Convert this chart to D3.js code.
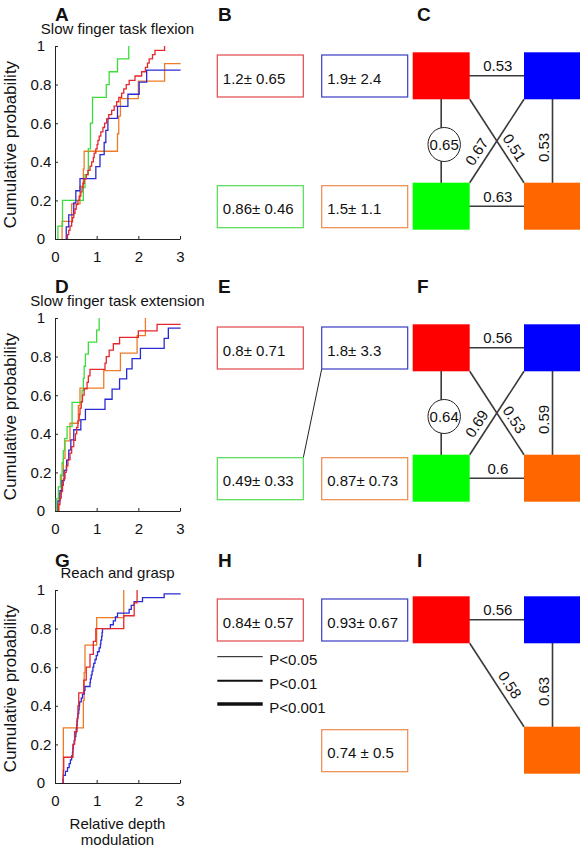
<!DOCTYPE html>
<html><head><meta charset="utf-8">
<script src="https://cdn.jsdelivr.net/npm/d3@7"></script>
<style>
body{margin:0;background:#fff}
svg{display:block}
text{font-family:"Liberation Sans", Arial, Helvetica, sans-serif}
</style>
</head><body>
<svg id="c" width="580" height="852"></svg>
<script>
// ---------------- DATA ----------------
const panelTitles = ["Slow finger task flexion", "Slow finger task extension", "Reach and grasp"];
const panelLetters = [["A","B","C"],["D","E","F"],["G","H","I"]];
const xTicks = [0, 1, 2, 3];
const yTicks = [0, 0.2, 0.4, 0.6, 0.8, 1];
const yAxisLabel = "Cumulative probability";
const xAxisLabel = ["Relative depth", "modulation"];
const groups = ["red", "blue", "green", "orange"];

// relative depth modulation samples (read from the empirical CDFs)
const flexRed = [0.30,0.33,0.36,0.40,0.42,0.45,0.48,0.51,0.55,0.58,0.62,0.65,0.67,0.70,0.75,0.79,0.84,0.88,0.92,0.94,0.98,1.01,1.03,1.06,1.10,1.15,1.19,1.24,1.29,1.36,1.42,1.48,1.53,1.60,1.65,1.71,1.78,1.92,2.08,2.17,2.22,2.26,2.34,2.40,2.63];
const flexBlue = [0.27,0.33,0.45,0.50,0.60,0.98,1.08,1.18,1.22,1.27,1.50,1.75,2.02,2.20,3.5,4.2];
const flexGreen = [0.07,0.18,0.18,0.68,0.72,0.80,0.80,0.85,0.85,0.90,0.90,1.23,1.30,1.50,1.77];
const flexOrange = [0.17,0.40,0.60,0.68,0.70,1.50,1.53,1.57,2.00,2.63,3.6];

const extRed = [0.08,0.12,0.15,0.18,0.20,0.24,0.27,0.31,0.36,0.40,0.45,0.49,0.52,0.55,0.58,0.60,0.63,0.66,0.70,0.77,0.80,0.84,1.20,1.23,1.30,1.40,1.55,2.00,2.45,3.4];
const extBlue = [0.07,0.12,0.17,0.22,0.28,0.33,0.38,0.45,0.62,0.73,1.20,1.37,1.55,1.72,1.85,2.05,2.62,2.72,3.5];
const extGreen = [0.03,0.08,0.13,0.17,0.20,0.23,0.29,0.41,0.41,0.65,0.68,0.70,0.73,0.80,1.00,1.06];
const extOrange = [0.10,0.15,0.20,0.24,0.36,0.56,0.60,1.17,1.57,1.97,2.17];

const graspRed = [0.20,0.21,0.43,0.47,0.53,0.55,0.57,0.69,0.75,0.84,0.92,0.98,1.65,1.90,1.97];
const graspBlue = [0.19,0.20,0.25,0.30,0.34,0.37,0.40,0.42,0.43,0.44,0.46,0.48,0.50,0.51,0.52,0.53,0.54,0.55,0.57,0.58,0.59,0.63,0.66,0.70,0.72,0.84,0.85,0.87,0.89,0.91,0.93,0.96,0.99,1.02,1.06,1.09,1.10,1.12,1.13,1.14,1.33,1.40,1.45,1.50,1.78,1.83,1.90,2.10,2.62,3.5];
const graspOrange = [0.20,0.20,0.68,0.70,0.72,1.00,1.65];

// mean ± sd boxes (order: red, blue, green, orange)
const flexStats = ["1.2\u00b1 0.65", "1.9\u00b1 2.4", "0.86\u00b1 0.46", "1.5\u00b1 1.1"];
const extStats = ["0.8\u00b1 0.71", "1.8\u00b1 3.3", "0.49\u00b1 0.33", "0.87\u00b1 0.73"];
const graspStats = ["0.84\u00b1 0.57", "0.93\u00b1 0.67", null, "0.74 \u00b1 0.5"];

// significant differences between boxes
const flexLinks = [];
const extLinks = [["blue", "green"]];
const graspLinks = [];

// correlation network edges
const flexEdges = [["red","blue","0.53"],["red","green","0.65"],["green","blue","0.67"],["red","orange","0.51"],["blue","orange","0.53"],["green","orange","0.63"]];
const extEdges = [["red","blue","0.56"],["red","green","0.64"],["green","blue","0.69"],["red","orange","0.53"],["blue","orange","0.59"],["green","orange","0.6"]];
const graspEdges = [["red","blue","0.56"],["red","orange","0.58"],["blue","orange","0.63"]];
const flexCircled = ["red-green"];
const extCircled = ["red-green"];
const graspCircled = [];

const legendLabels = ["P<0.05", "P<0.01", "P<0.001"];

// ---------------- STYLE / LAYOUT ----------------
const curveColor = {red:"#e6262c", blue:"#2a2ad4", green:"#3cdc3c", orange:"#ef7b26"};
const fillColor = {red:"#ff0000", blue:"#0000ff", green:"#00ff00", orange:"#ff6600"};
const boxColor = {red:"#e2474b", blue:"#3b3bc4", green:"#52dc52", orange:"#ee8a4c"};
const gridPos = {red:[0,0], blue:[1,0], green:[0,1], orange:[1,1]};
const legendWidths = [1, 2, 3.6];
const rowOffset = [0, 272, 544];
const letterY = [21, 293, 567];
const edgeColor = "#3a3a3a";

const rows = [
  {curves:{orange:flexOrange, green:flexGreen, blue:flexBlue, red:flexRed}, stats:flexStats, links:flexLinks, edges:flexEdges, circled:flexCircled},
  {curves:{orange:extOrange, green:extGreen, blue:extBlue, red:extRed}, stats:extStats, links:extLinks, edges:extEdges, circled:extCircled},
  {curves:{orange:graspOrange, blue:graspBlue, red:graspRed}, stats:graspStats, links:graspLinks, edges:graspEdges, circled:graspCircled}
];

const svg = d3.select("#c");

// scales for box and square grids
const boxX = d3.scaleOrdinal().domain([0,1]).range([217.3, 321.7]);
const boxY = d3.scaleOrdinal().domain([0,1]).range([55, 185.7]);
const boxW = 86, boxH = 42;
const sqX = d3.scaleOrdinal().domain([0,1]).range([412.7, 524]);
const sqY = d3.scaleOrdinal().domain([0,1]).range([52.3, 182.7]);
const sqW = 57, sqH = 47;

rows.forEach((r, i) => {
  const oy = rowOffset[i];
  const x = d3.scaleLinear().domain([0, 3]).range([55, 180]);
  const y = d3.scaleLinear().domain([0, 1]).range([239 + oy, 46 + oy]);

  // panel letters
  const lx = [55, 218, 417];
  panelLetters[i].forEach((L, j) => {
    svg.append("text").attr("x", lx[j]).attr("y", letterY[i])
      .attr("font-size", 19).attr("font-weight", "bold").attr("fill", "#111").text(L);
  });

  // title
  svg.append("text").attr("x", 117.5).attr("y", 46 + oy - 12.5)
    .attr("text-anchor", "middle").attr("font-size", 15).attr("fill", "#111").text(panelTitles[i]);

  // clip
  svg.append("clipPath").attr("id", "clip" + i).append("rect")
    .attr("x", 55).attr("y", 40 + oy).attr("width", 125.6).attr("height", 205);

  // axes
  const ya = svg.append("g").attr("transform", "translate(55,0)")
    .call(d3.axisLeft(y).tickValues(yTicks).tickSizeInner(-3).tickSizeOuter(0).tickFormat(d => String(d)));
  ya.attr("font-size", 15);
  ya.select(".domain").attr("stroke", "#222");
  ya.selectAll(".tick line").attr("stroke", "#222");
  ya.selectAll(".tick text").attr("x", -14).attr("text-anchor", "middle").attr("fill", "#111");

  const xa = svg.append("g").attr("transform", `translate(0,${239 + oy})`)
    .call(d3.axisBottom(x).tickValues(xTicks).tickSizeInner(-3).tickSizeOuter(0).tickPadding(12.5).tickFormat(d => String(d)));
  xa.attr("font-size", 15);
  xa.select(".domain").attr("stroke", "#222");
  xa.selectAll(".tick line").attr("stroke", "#222");
  xa.selectAll(".tick text").attr("fill", "#111");

  // y label
  svg.append("text").attr("transform", `translate(16,${(46 + 239) / 2 + 2 + oy}) rotate(-90)`)
    .attr("text-anchor", "middle").attr("font-size", 17).attr("fill", "#111").text(yAxisLabel);

  // CDF curves
  const line = d3.line().x(d => x(d[0])).y(d => y(d[1])).curve(d3.curveStepAfter);
  Object.keys(r.curves).forEach(gname => {
    const vals = r.curves[gname].slice().sort((a, b) => a - b);
    const n = vals.length;
    const pts = [[vals[0], 0]].concat(vals.map((v, k) => [v, (k + 1) / n]));
    svg.append("path").attr("d", line(pts)).attr("fill", "none")
      .attr("stroke", curveColor[gname]).attr("stroke-width", 1.3)
      .attr("clip-path", `url(#clip${i})`);
  });

  // stats boxes
  const boxCorner = (g) => {
    const p = gridPos[g];
    return {x: boxX(p[0]), y: boxY(p[1]) + oy};
  };
  r.links.forEach(([a, b]) => {
    const pa = gridPos[a], pb = gridPos[b];
    const A = boxCorner(a), B = boxCorner(b);
    const ax = pa[0] < pb[0] ? A.x + boxW : A.x;
    const bx = pb[0] < pa[0] ? B.x + boxW : B.x;
    const ay = pa[1] < pb[1] ? A.y + boxH : A.y;
    const by = pb[1] < pa[1] ? B.y + boxH : B.y;
    svg.append("line").attr("x1", ax).attr("y1", ay).attr("x2", bx).attr("y2", by)
      .attr("stroke", "#222").attr("stroke-width", 1);
  });
  r.stats.forEach((s, k) => {
    if (s == null) return;
    const g = groups[k];
    const c = boxCorner(g);
    svg.append("rect").attr("x", c.x).attr("y", c.y).attr("width", boxW).attr("height", boxH)
      .attr("fill", "none").attr("stroke", boxColor[g]).attr("stroke-width", 1.2);
    svg.append("text").attr("x", c.x + 5.5).attr("y", c.y + boxH / 2 + 7.5)
      .attr("font-size", 15).attr("fill", "#111").text(s);
  });

  // legend (last row)
  if (i === 2) {
    legendLabels.forEach((L, k) => {
      const ly = [656.7, 680.7, 704][k];
      svg.append("line").attr("x1", 217.3).attr("x2", 262.7).attr("y1", ly).attr("y2", ly)
        .attr("stroke", "#111").attr("stroke-width", legendWidths[k]);
      svg.append("text").attr("x", 269.3).attr("y", ly + 8.5).attr("font-size", 15).attr("fill", "#111").text(L);
    });
  }

  // network
  const present = groups.filter((g, k) => r.stats[k] != null);
  const center = (g) => {
    const p = gridPos[g];
    return [sqX(p[0]) + sqW / 2, sqY(p[1]) + oy + sqH / 2];
  };
  const diagCount = r.edges.filter(([a, b]) => gridPos[a][0] !== gridPos[b][0] && gridPos[a][1] !== gridPos[b][1]).length;
  const crossing = diagCount > 1;
  const netG = svg.append("g");
  const labG = svg.append("g");
  r.edges.forEach(([a, b, lab]) => {
    const pa = gridPos[a], pb = gridPos[b];
    const ca = center(a), cb = center(b);
    if (pa[1] === pb[1]) {
      netG.append("line").attr("x1", ca[0]).attr("y1", ca[1]).attr("x2", cb[0]).attr("y2", cb[1])
        .attr("stroke", edgeColor).attr("stroke-width", 1.6);
      labG.append("text").attr("x", (sqX(0) + sqW + sqX(1)) / 2 + 1).attr("y", ca[1] - 4.5)
        .attr("text-anchor", "middle").attr("font-size", 15).attr("fill", "#111").text(lab);
    } else if (pa[0] === pb[0]) {
      netG.append("line").attr("x1", ca[0]).attr("y1", ca[1]).attr("x2", cb[0]).attr("y2", cb[1])
        .attr("stroke", edgeColor).attr("stroke-width", 1.6);
      const my = (sqY(0) + sqH + sqY(1)) / 2 + oy;
      if (r.circled.includes(a + "-" + b)) {
        labG.append("ellipse").attr("cx", ca[0] + 3).attr("cy", my + 3.5).attr("rx", 16.2).attr("ry", 17)
          .attr("fill", "#fff").attr("stroke", "#222").attr("stroke-width", 1);
        labG.append("text").attr("x", ca[0] + 3).attr("y", my + 3.5).attr("dy", "0.35em")
          .attr("text-anchor", "middle").attr("font-size", 15).attr("fill", "#111").text(lab);
      } else {
        labG.append("text").attr("transform", `translate(${ca[0] - 9},${my + 6.5}) rotate(-90)`)
          .attr("dy", "0.35em").attr("text-anchor", "middle").attr("font-size", 15).attr("fill", "#111").text(lab);
      }
    } else {
      const L = pa[0] === 0 ? a : b, R = pa[0] === 0 ? b : a;
      const pL = gridPos[L], pR = gridPos[R];
      const x1 = sqX(0) + sqW, x2 = sqX(1);
      const y1 = (pL[1] === 0 ? sqY(0) + sqH : sqY(1)) + oy;
      const y2 = (pR[1] === 0 ? sqY(0) + sqH : sqY(1)) + oy;
      netG.append("line").attr("x1", x1).attr("y1", y1).attr("x2", x2).attr("y2", y2)
        .attr("stroke", edgeColor).attr("stroke-width", 1.6);
      const th = Math.atan2(y2 - y1, x2 - x1);
      const deg = th * 180 / Math.PI;
      const along = crossing ? (deg > 0 ? 15 : -20) : 7;
      const perp = 11;
      const cx = (x1 + x2) / 2 + along * Math.cos(th) + perp * Math.sin(th);
      const cy = (y1 + y2) / 2 + along * Math.sin(th) - perp * Math.cos(th);
      labG.append("text").attr("transform", `translate(${cx},${cy}) rotate(${deg})`)
        .attr("dy", "0.35em").attr("text-anchor", "middle").attr("font-size", 15).attr("fill", "#111").text(lab);
    }
  });
  present.forEach(g => {
    const p = gridPos[g];
    netG.append("rect").attr("x", sqX(p[0])).attr("y", sqY(p[1]) + oy)
      .attr("width", sqW).attr("height", sqH).attr("fill", fillColor[g]);
  });
});

// x axis label (bottom)
xAxisLabel.forEach((t, k) => {
  svg.append("text").attr("x", 117.5).attr("y", 829 + k * 15.5)
    .attr("text-anchor", "middle").attr("font-size", 15).attr("fill", "#111").text(t);
});
</script>
</body></html>
